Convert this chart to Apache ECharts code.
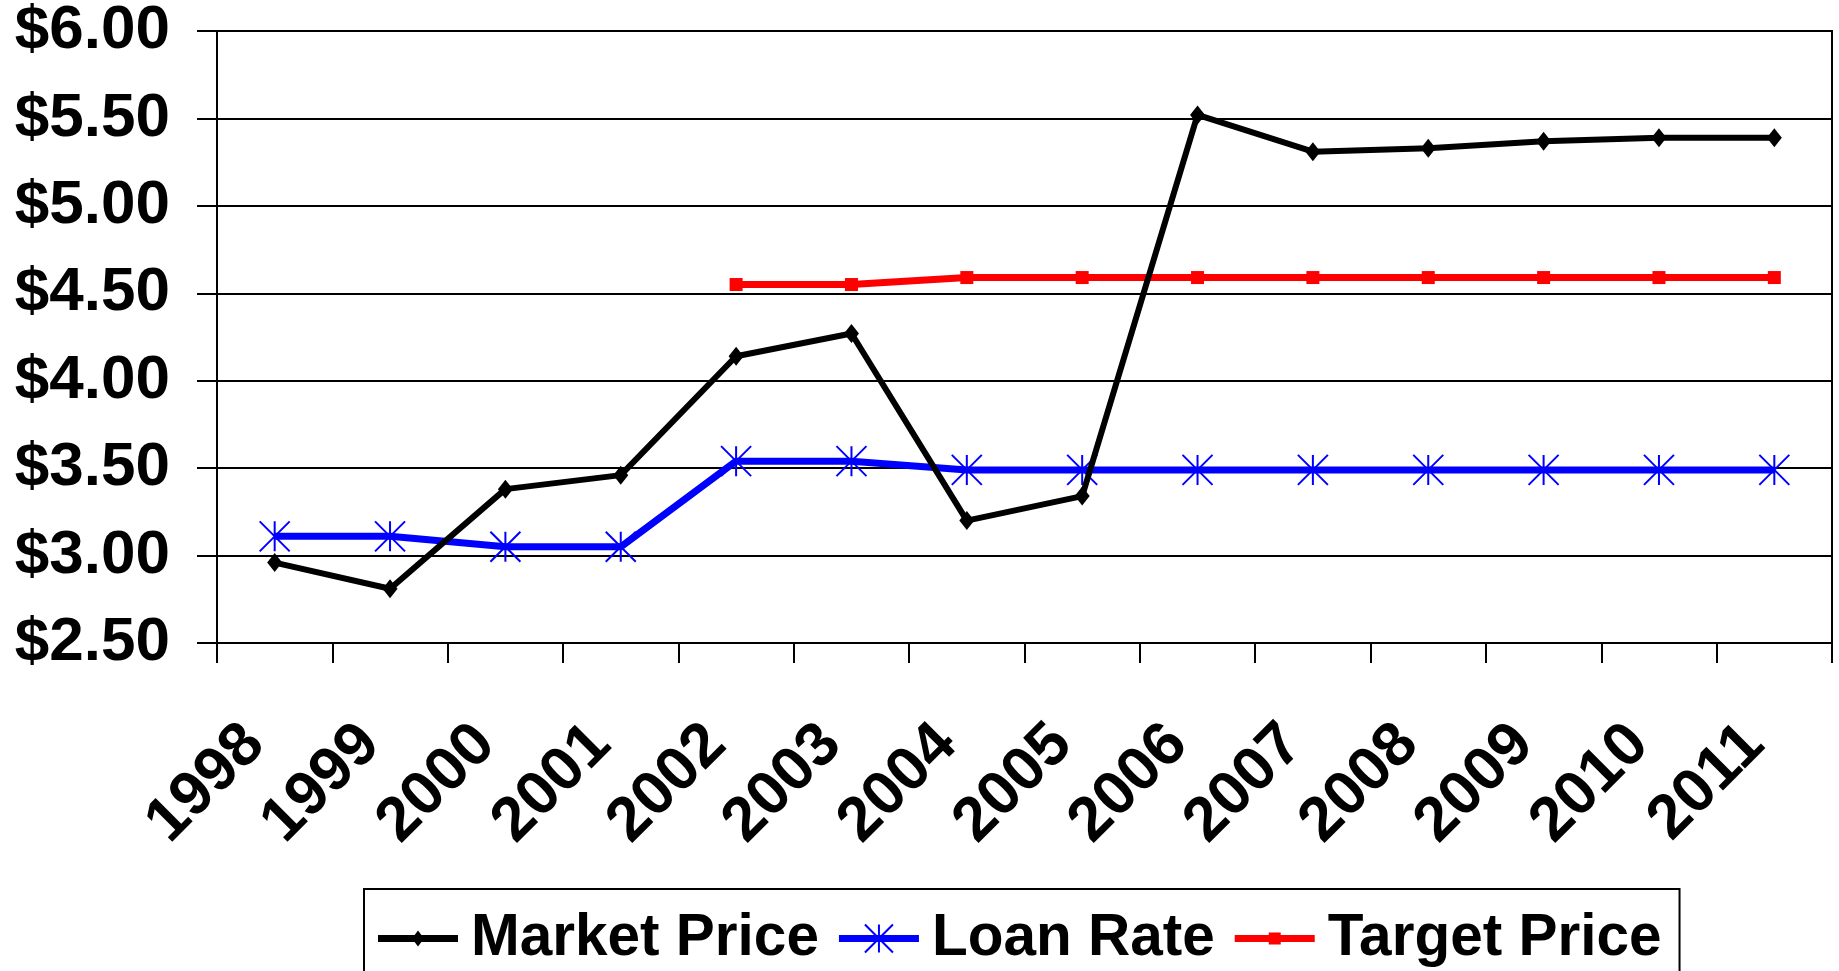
<!DOCTYPE html>
<html>
<head>
<meta charset="utf-8">
<script src="https://cdn.jsdelivr.net/npm/echarts@6/dist/echarts.min.js"></script>
<style>
  html, body { margin: 0; padding: 0; background: #fff; }
  #chart { width: 1839px; height: 971px; }
</style>
</head>
<body>
<div id="chart"></div>
<script>
const years = ['1998','1999','2000','2001','2002','2003','2004','2005','2006','2007','2008','2009','2010','2011'];
const marketPrice = [2.96, 2.81, 3.38, 3.46, 4.14, 4.27, 3.20, 3.34, 5.52, 5.31, 5.33, 5.37, 5.39, 5.39];
const loanRate    = [3.11, 3.11, 3.05, 3.05, 3.54, 3.54, 3.49, 3.49, 3.49, 3.49, 3.49, 3.49, 3.49, 3.49];
const targetPrice = [null, null, null, null, 4.55, 4.55, 4.59, 4.59, 4.59, 4.59, 4.59, 4.59, 4.59, 4.59];
const yMin = 2.5, yMax = 6.0, yStep = 0.5;

const FONT = '"Liberation Sans", Arial, sans-serif';
const asterisk = 'path://M0,-1L0,1M-1,-1L1,1M-1,1L1,-1';

// legend icons (line + marker) as filled paths in an 80x30 box
const lineBar = 'M0,11.5L80,11.5L80,18.5L0,18.5Z';
const iconMarket = 'path://' + lineBar + 'M40,7L46,15L40,23L34,15Z';
const iconLoan = 'path://' + lineBar +
  'M39,1L41,1L41,29L39,29Z' +
  'M26.7,0.3L54.7,28.3L53.3,29.7L25.3,1.7Z' +
  'M53.3,0.3L54.7,1.7L26.7,29.7L25.3,28.3Z';
const iconTarget = 'path://' + lineBar + 'M34,9L46,9L46,21L34,21Z';

const chart = echarts.init(document.getElementById('chart'), null, { renderer: 'canvas' });
chart.setOption({
  backgroundColor: '#fff',
  animation: false,
  grid: { left: 217, right: 7, top: 31, bottom: 328, show: true, borderColor: '#000', borderWidth: 2, containLabel: false },
  xAxis: {
    type: 'category',
    data: years,
    boundaryGap: true,
    axisLine: { lineStyle: { color: '#000', width: 2 } },
    axisTick: { show: true, length: 20, lineStyle: { color: '#000', width: 2 } },
    axisLabel: {
      interval: 0, rotate: 45, margin: 72,
      fontFamily: FONT, fontSize: 62, fontWeight: 'bold', color: '#000',
      padding: [0, 28, 0, 0]
    },
    splitLine: { show: false }
  },
  yAxis: {
    type: 'value',
    min: yMin, max: yMax, interval: yStep,
    axisLine: { show: true, lineStyle: { color: '#000', width: 2 } },
    axisTick: { show: true, length: 20, lineStyle: { color: '#000', width: 2 } },
    axisLabel: {
      margin: 47, fontFamily: FONT, fontSize: 62, fontWeight: 'bold', color: '#000',
      formatter: v => '$' + v.toFixed(2)
    },
    splitLine: { show: true, lineStyle: { color: '#000', width: 2 } }
  },
  legend: {
    left: 364, top: 889,
    padding: [20, 18, 60, 14],
    borderColor: '#000', borderWidth: 2,
    itemWidth: 80, itemHeight: 30, itemGap: 20,
    textStyle: { fontFamily: FONT, fontSize: 58.5, fontWeight: 'bold', color: '#000', lineHeight: 58, padding: [0, 0, 0, 8] },
    data: [
      { name: 'Market Price', icon: iconMarket, itemStyle: { borderWidth: 0 } },
      { name: 'Loan Rate', icon: iconLoan, itemStyle: { borderWidth: 0 } },
      { name: 'Target Price', icon: iconTarget, itemStyle: { borderWidth: 0 } }
    ]
  },
  series: [
    {
      name: 'Market Price', type: 'line', data: marketPrice,
      symbol: 'diamond', symbolSize: [15, 19],
      lineStyle: { color: '#000', width: 6 },
      itemStyle: { color: '#000' },
      z: 3
    },
    {
      name: 'Loan Rate', type: 'line', data: loanRate,
      symbol: asterisk, symbolSize: 30,
      lineStyle: { color: '#0000ff', width: 7 },
      itemStyle: { color: '#0000ff', borderColor: '#0000ff', borderWidth: 2 },
      z: 2
    },
    {
      name: 'Target Price', type: 'line', data: targetPrice,
      symbol: 'rect', symbolSize: 13,
      lineStyle: { color: '#ff0000', width: 7 },
      itemStyle: { color: '#ff0000' },
      z: 2
    }
  ]
});
</script>
</body>
</html>
